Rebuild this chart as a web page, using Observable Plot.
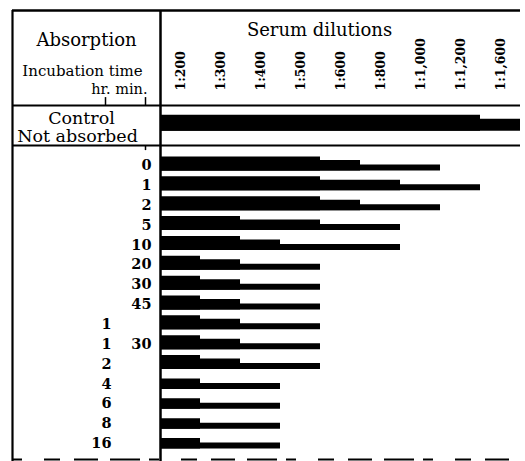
<!DOCTYPE html>
<html>
<head>
<meta charset="utf-8">
<script src="https://cdn.jsdelivr.net/npm/d3@7"></script>
<script src="https://cdn.jsdelivr.net/npm/@observablehq/plot@0.6"></script>
<style>
  html, body { margin: 0; padding: 0; background: #fff; }
  svg { display: block; }
</style>
</head>
<body>
<div id="chart"></div>
<script>
// ---- data ----
const dilutions = ["1:200", "1:300", "1:400", "1:500", "1:600", "1:800", "1:1,000", "1:1,200", "1:1,600"];
const incubationHr  = ["", "", "", "", "", "", "", "", "1", "1", "2", "4", "6", "8", "16"];
const incubationMin = ["0", "1", "2", "5", "10", "20", "30", "45", "", "30", "", "", "", "", ""];
// last dilution reached at each strength of reaction (strong / partial / weak)
const strongTo  = ["1:500", "1:500", "1:500", "1:300", "1:300", "1:200", "1:200", "1:200", "1:200", "1:200", "1:200", null, null, null, null];
const partialTo = ["1:600", "1:800", "1:600", "1:500", "1:400", "1:300", "1:300", "1:300", "1:300", "1:300", "1:300", "1:200", "1:200", "1:200", "1:200"];
const weakTo    = ["1:1,000", "1:1,200", "1:1,000", "1:800", "1:800", "1:500", "1:500", "1:500", "1:500", "1:500", "1:500", "1:400", "1:400", "1:400", "1:400"];
const controlStrongTo  = "1:1,200";
const controlPartialTo = "1:1,600";

// ---- build tables ----
const colEnd = (d) => dilutions.indexOf(d) + 1;
const rows = incubationHr.map((_, i) => i);
const segs = [];
rows.forEach((i) => {
  if (weakTo[i]) segs.push({row: i, level: 1, end: colEnd(weakTo[i])});
  if (partialTo[i]) segs.push({row: i, level: 2, end: colEnd(partialTo[i])});
  if (strongTo[i]) segs.push({row: i, level: 3, end: colEnd(strongTo[i])});
});
const controlRow = -2;
const ctrl = [
  {row: controlRow, level: 2, end: colEnd(controlPartialTo)},
  {row: controlRow, level: 3, end: colEnd(controlStrongTo)}
];

// ---- styles ----
const serif = "DejaVu Serif";
const H = {1: 6, 2: 10.5, 3: 14};
const HC = {2: 12, 3: 16};
const bottomOff = 5;

const barMarks = [];
[1, 2, 3].forEach((l) => {
  barMarks.push(Plot.ruleY(segs.filter((s) => s.level === l), {
    y: "row", x1: 0, x2: "end", stroke: "#000", strokeWidth: H[l], dy: bottomOff - H[l] / 2
  }));
});
[2, 3].forEach((l) => {
  barMarks.push(Plot.ruleY(ctrl.filter((s) => s.level === l), {
    y: "row", x1: 0, x2: "end", stroke: "#000", strokeWidth: HC[l], dy: bottomOff - HC[l] / 2
  }));
});

// table frame positions (in scale units)
const yTop = -7.8, yHead = -3.02, yCtrl = -1.007, yBottom = 14.8;
const xLeft = -3.7, xRight = 9;

const txt = (s, dx, dy, opts = {}) => Plot.text([s], {
  frameAnchor: "top-left", dx, dy, text: (d) => d,
  textAnchor: "middle", lineAnchor: "middle",
  fontFamily: serif, fontSize: 17.5, fill: "#000", ...opts
});

const chart = Plot.plot({
  width: 525,
  height: 461,
  marginTop: 0, marginRight: 0, marginBottom: 0, marginLeft: 0,
  style: {background: "#fff", color: "#000"},
  x: {type: "linear", domain: [0, 9], range: [160, 520], axis: null},
  y: {type: "linear", domain: [0, 14], range: [165, 443], axis: null},
  marks: [
    // frame lines
    Plot.ruleY([yTop], {x1: xLeft, x2: xRight, stroke: "#000", strokeWidth: 2.5}),
    Plot.ruleY([yHead, yCtrl], {x1: xLeft, x2: xRight, stroke: "#000", strokeWidth: 2}),
    Plot.ruleY([yBottom], {x1: xLeft, x2: xRight, stroke: "#000", strokeWidth: 2, strokeDasharray: "10,22,16,14,24,12,30,9"}),
    Plot.ruleX([xLeft], {y1: yTop, y2: yBottom + 0.2, stroke: "#000", strokeWidth: 2.2}),
    Plot.ruleX([0], {y1: yTop, y2: yBottom + 0.2, stroke: "#000", strokeWidth: 2.5}),
    Plot.ruleX([-1.375, -0.375], {y1: -3.42, y2: yHead, stroke: "#000", strokeWidth: 1.5}),
    Plot.ruleX([-0.375], {y1: yCtrl, y2: -0.75, stroke: "#000", strokeWidth: 1.5}),
    // bars
    ...barMarks,
    // dilution axis
    Plot.axisX(dilutions.map((d, i) => i + 0.5), {
      anchor: "top", tickSize: 0, tickPadding: 0, dy: 90, tickRotate: -90,
      textAnchor: "start", lineAnchor: "middle",
      tickFormat: (t) => dilutions[Math.round(t - 0.5)],
      fontFamily: serif, fontSize: 12.5, fontWeight: "bold", label: null
    }),
    // row labels
    Plot.text(rows, {x: 0, y: (d) => d, text: (d) => incubationHr[d], dx: -49, textAnchor: "end",
      fontFamily: serif, fontSize: 14.5, fontWeight: "bold", fill: "#000"}),
    Plot.text(rows, {x: 0, y: (d) => d, text: (d) => incubationMin[d], dx: -9, textAnchor: "end",
      fontFamily: serif, fontSize: 14.5, fontWeight: "bold", fill: "#000"}),
    // header texts
    txt("Absorption", 86, 40, {fontSize: 18}),
    txt("Serum dilutions", 319, 30, {fontSize: 18}),
    txt("Incubation time", 82, 71, {fontSize: 15}),
    txt("hr. min.", 147, 89, {fontSize: 14.5, textAnchor: "end"}),
    txt("Control", 81, 117.5),
    txt("Not absorbed", 77, 136)
  ]
});
document.getElementById("chart").appendChild(chart);
</script>
</body>
</html>
